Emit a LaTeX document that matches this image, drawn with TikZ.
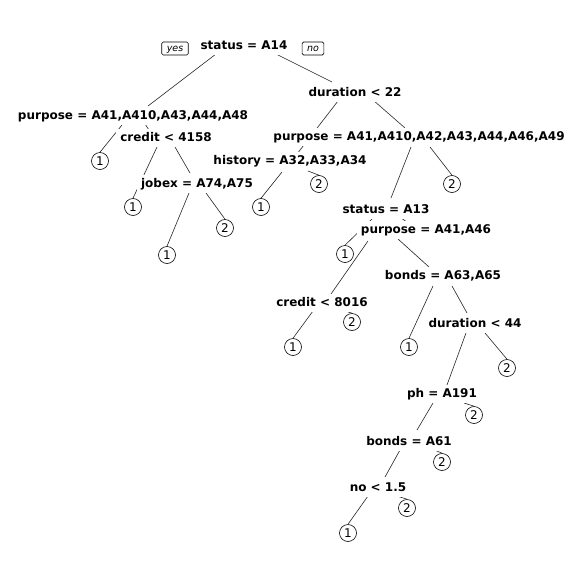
\documentclass[tikz,border=0pt]{standalone}
\usepackage{fontspec}
\setmainfont{DejaVu Sans}
\pgfdeclarelayer{back}
\pgfdeclarelayer{bg}
\pgfsetlayers{back,bg,main}
\begin{document}
\begin{tikzpicture}[x=1pt,y=-1pt,
  split/.style={font=\fontsize{12}{14}\selectfont\bfseries, fill=white, inner xsep=4pt, inner ysep=0pt, minimum height=18pt, text height=9pt, text depth=2.5pt},
  leaf/.style={circle, draw, line width=0.6pt, fill=white, minimum size=17pt, inner sep=0pt, font=\fontsize{12}{14}\selectfont},
  yn/.style={draw, line width=0.6pt, rounded corners=1.5pt, font=\fontsize{9.5}{10}\selectfont\itshape, inner xsep=5pt, inner ysep=0pt, minimum height=13pt, text height=7pt, text depth=1pt},
  br/.style={line width=0.6pt, black!85}]
\useasboundingbox (0,0) rectangle (576,576);
\begin{pgfonlayer}{back}
\fill[white] (0,0) rectangle (576,576);
\end{pgfonlayer}
% split labels
\node[split] (root) at (244,46) {status = A14};
\node[yn] (yes) at (175,48.5) {yes};
\node[yn] (no) at (313,48.5) {no};
\node[split] (p1) at (133,116) {purpose = A41,A410,A43,A44,A48};
\node[split] (d22) at (355,93) {duration < 22};
\node[split] (c4158) at (166,138) {credit < 4158};
\node[split] (jobex) at (197,184) {jobex = A74,A75};
\node[split] (p2) at (419,137) {purpose = A41,A410,A42,A43,A44,A46,A49};
\node[split] (hist) at (290,161) {history = A32,A33,A34};
\node[split] (s13) at (386,210) {status = A13};
\node[split] (p46) at (426,230) {purpose = A41,A46};
\node[split] (b6365) at (443,276) {bonds = A63,A65};
\node[split] (c8016) at (322,303) {credit < 8016};
\node[split] (d44) at (475,324) {duration < 44};
\node[split] (ph) at (442,394) {ph = A191};
\node[split] (b61) at (409,442) {bonds = A61};
\node[split] (no15) at (378,488) {no < 1.5};
% leaves
\node[leaf] (l1) at (100,161) {1};
\node[leaf] (l2) at (133,207) {1};
\node[leaf] (l3) at (167,255) {1};
\node[leaf] (l4) at (225,228) {2};
\node[leaf] (l5) at (261,207) {1};
\node[leaf] (l6) at (319,184) {2};
\node[leaf] (l7) at (452,184) {2};
\node[leaf] (l8) at (345,254) {1};
\node[leaf] (l9) at (293,347) {1};
\node[leaf] (l10) at (352,322) {2};
\node[leaf] (l11) at (409,347) {1};
\node[leaf] (l12) at (507,368) {2};
\node[leaf] (l13) at (474,415) {2};
\node[leaf] (l14) at (442,462) {2};
\node[leaf] (l15) at (348,533) {1};
\node[leaf] (l16) at (407,508) {2};
% branch end points
\coordinate (rootL) at (216,54);  \coordinate (p1T) at (148,106);
\coordinate (rootR) at (276,54);  \coordinate (d22T) at (332,82);
\coordinate (p1L) at (122,125);
\coordinate (p1R) at (145,124);   \coordinate (c4158T) at (149,130);
\coordinate (c4158L) at (157,147);
\coordinate (c4158R) at (175,147); \coordinate (jobexT) at (190,173);
\coordinate (jobexL) at (189,193);
\coordinate (jobexR) at (206,193);
\coordinate (d22L) at (338,101);  \coordinate (histT) at (297,154);
\coordinate (d22R) at (373,100);  \coordinate (p2T) at (405,128);
\coordinate (histL) at (282,172);
\coordinate (histR) at (308,171);
\coordinate (p2L) at (411,147);   \coordinate (s13T) at (391,198);
\coordinate (p2R) at (430,147);
\coordinate (s13L) at (373,218);
\coordinate (s13R) at (401,218);  \coordinate (p46T) at (407,222);
\coordinate (p46L) at (368,241);  \coordinate (c8016T) at (331,294);
\coordinate (p46R) at (398,239);  \coordinate (b6365T) at (429,267);
\coordinate (b6365L) at (433,286);
\coordinate (b6365R) at (452,286); \coordinate (d44T) at (467,313);
\coordinate (c8016L) at (313,311);
\coordinate (c8016R) at (342,310);
\coordinate (d44L) at (466,333); \coordinate (phT) at (447,385);
\coordinate (d44R) at (485,333);
\coordinate (phL) at (433,403);  \coordinate (b61T) at (417,430);
\coordinate (phR) at (464,403);
\coordinate (b61L) at (400,450); \coordinate (no15T) at (385,477);
\coordinate (b61R) at (432,449);
\coordinate (no15L) at (368,496);
\coordinate (no15R) at (397,496);
\begin{pgfonlayer}{bg}
\draw[br] (rootL) -- (p1T);
\draw[br] (rootR) -- (d22T);
\draw[br] (p1L) -- (l1.north);
\draw[br] (p1R) -- (c4158T);
\draw[br] (c4158L) -- (l2.north);
\draw[br] (c4158R) -- (jobexT);
\draw[br] (jobexL) -- (l3.north);
\draw[br] (jobexR) -- (l4.north);
\draw[br] (d22L) -- (histT);
\draw[br] (d22R) -- (p2T);
\draw[br] (histL) -- (l5.north);
\draw[br] (histR) -- (l6.north);
\draw[br] (p2L) -- (s13T);
\draw[br] (p2R) -- (l7.north);
\draw[br] (s13L) -- (l8.north);
\draw[br] (s13R) -- (p46T);
\draw[br] (p46L) -- (c8016T);
\draw[br] (p46R) -- (b6365T);
\draw[br] (b6365L) -- (l11.north);
\draw[br] (b6365R) -- (d44T);
\draw[br] (c8016L) -- (l9.north);
\draw[br] (c8016R) -- (l10.north);
\draw[br] (d44L) -- (phT);
\draw[br] (d44R) -- (l12.north);
\draw[br] (phL) -- (b61T);
\draw[br] (phR) -- (l13.north);
\draw[br] (b61L) -- (no15T);
\draw[br] (b61R) -- (l14.north);
\draw[br] (no15L) -- (l15.north);
\draw[br] (no15R) -- (l16.north);
\end{pgfonlayer}
\end{tikzpicture}
\end{document}
